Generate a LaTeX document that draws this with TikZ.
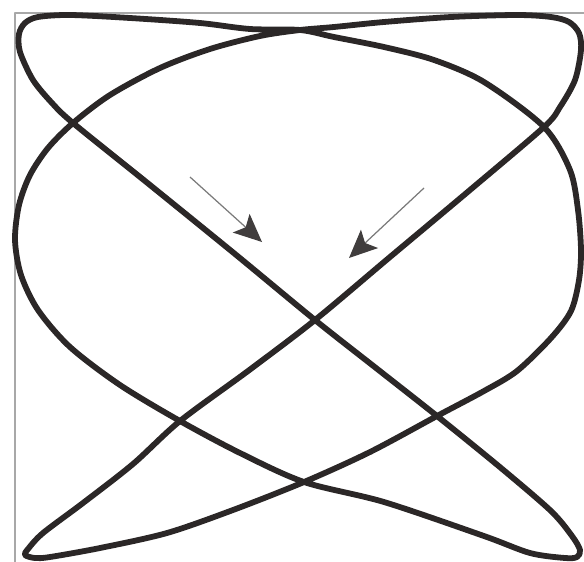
\documentclass[tikz,border=0pt]{standalone}
\usetikzlibrary{arrows.meta}
\definecolor{ink}{HTML}{2B2727}
\definecolor{framegray}{HTML}{A8A8A8}
\definecolor{arrowgray}{HTML}{7A7A7A}

\begin{document}
\begin{tikzpicture}[x=0.02cm, y=-0.02cm, line join=round]
        \tikzset{
            frame/.style ={draw=framegray, line width=0.8pt},
            curve/.style ={draw=ink, line width=3.3pt},
            hint/.style  ={draw=arrowgray, line width=0.7pt,
                           -{Stealth[length=0.56cm, width=0.5cm, inset=0.12cm, color=ink!90]}}
        }
        \useasboundingbox (0,0) rectangle (584,561);
        %% ---- Rahmen ----
        \draw[frame] (15,13) rectangle (600,580);
        %% ---- Lissajous-Figur ----
        \draw[curve] plot[smooth cycle, tension=0.5] coordinates {
            (300,30) (250,29) (200,23) (130,18) (70,15) (38,17) (25,23)
            (19,34) (20,52) (33,80) (52,103) (73,123)
            (150,185) (235,254) (315,320)
            (376,368) (437,416)
            (501,468) (551,511) (572,536) (580,550) (577,557) (565,558)
            (530,553) (484,536) (384,502) (304,482)
            (240,453) (180,421)
            (120,385) (70,347) (38,310) (21,275) (15,240) (19,205) (30,175)
            (48,148) (73,123)
            (110,95) (160,68) (210,49) (260,36) (300,30)
            (334,27) (384,22) (451,17) (517,15) (551,17) (569,22) (579,33)
            (581,50) (575,80) (560,107) (544,127)
            (470,190) (390,257) (315,320)
            (248,371) (180,421)
            (133,464) (83,503) (43,533) (28,549) (25,555) (35,558) (50,557)
            (100,548) (167,533) (233,510) (304,482)
            (370,452) (437,416)
            (484,391) (517,371) (551,338) (571,311) (579,280) (581,250)
            (578,210) (570,170) (544,127)
            (484,82) (434,60) (384,47) (334,37)};
        %% ---- Pfeile ----
        \coordinate (lefttail)  at (190,177);
        \coordinate (lefttip)   at (262,242);
        \coordinate (righttail) at (424,188);
        \coordinate (righttip)  at (349,258);
        \draw[hint] (lefttail)  -- (lefttip);
        \draw[hint] (righttail) -- (righttip);
\end{tikzpicture}
\end{document}
